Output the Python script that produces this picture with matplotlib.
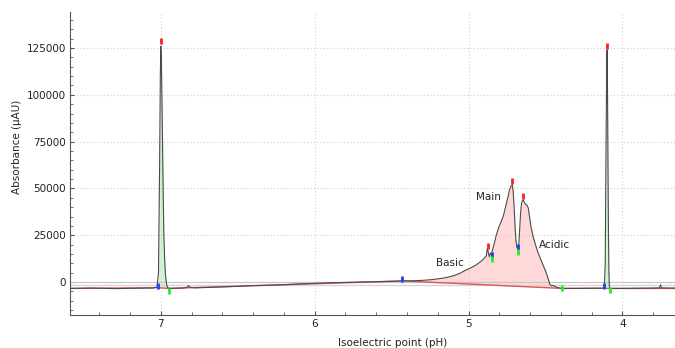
import numpy as np
import matplotlib
matplotlib.use("Agg")
import matplotlib.pyplot as plt
from matplotlib.ticker import MultipleLocator

plt.rcParams["font.family"] = ["DejaVu Sans"]

# ---------------------------
# DATA
# ---------------------------
trace_ph = [7.59, 7.45, 7.30, 7.15, 7.05, 7.025, 7.015, 7.008, 7.003, 7.000,
            6.996, 6.992, 6.988, 6.984, 6.980, 6.975, 6.970, 6.962, 6.955, 6.94,
            6.86, 6.83, 6.82, 6.81, 6.78, 6.70, 6.60, 6.50, 6.40, 6.30,
            6.20, 6.10, 6.00, 5.90, 5.80, 5.70, 5.60, 5.50, 5.43, 5.35,
            5.30, 5.25, 5.20, 5.15, 5.10, 5.06, 5.02, 4.98, 4.95, 4.92,
            4.90, 4.885, 4.878, 4.872, 4.865, 4.858, 4.852, 4.845, 4.835, 4.82,
            4.805, 4.79, 4.775, 4.76, 4.745, 4.735, 4.725, 4.716, 4.710, 4.704,
            4.698, 4.692, 4.686, 4.680, 4.674, 4.668, 4.662, 4.656, 4.650, 4.646,
            4.640, 4.630, 4.620, 4.612, 4.604, 4.596, 4.588, 4.580, 4.571, 4.560,
            4.548, 4.538, 4.528, 4.518, 4.508, 4.498, 4.488, 4.478, 4.470, 4.460,
            4.450, 4.440, 4.420, 4.400, 4.390, 4.30, 4.20, 4.13, 4.118, 4.112,
            4.107, 4.103, 4.100, 4.097, 4.094, 4.091, 4.088, 4.085, 4.080, 4.00,
            3.90, 3.80, 3.76, 3.752, 3.748, 3.70, 3.66]
trace_abs = [-3400, -3200, -3500, -3300, -3200, -2700, 5000, 60000, 110000, 126000,
             118000, 95000, 70000, 45000, 25000, 12000, 4000, -1500, -3000, -3400,
             -3200, -2900, -1900, -2800, -3100, -2900, -2600, -2300, -1900, -1700,
             -1400, -1000, -700, -400, -200, 0, 200, 400, 600, 700,
             900, 1200, 1700, 2300, 3300, 4500, 6300, 7800, 9200, 11000,
             12500, 14000, 18000, 16000, 13500, 15500, 14500, 17000, 20000, 25000,
             29000, 32000, 35000, 40000, 45000, 49000, 51000, 52000, 48000, 40000,
             30000, 22000, 18500, 17800, 19500, 28000, 37000, 42000, 43500, 44000,
             43000, 41500, 41000, 39500, 35000, 30000, 27000, 24000, 21500, 18500,
             15500, 13500, 11500, 9500, 7500, 5500, 3000, 500, -1500, -2000,
             -1800, -2300, -3000, -3300, -3400, -3400, -3300, -3300, -3100, 10000,
             70000, 110000, 124000, 100000, 60000, 25000, 5000, -2500, -3400, -3400,
             -3300, -3200, -3100, -1500, -3100, -3200, -3200]

# baseline (red) drawn by the integration
base_ph = [7.59, 7.02, 6.95, 5.43, 4.39, 4.117, 4.084, 3.66]
base_abs = [-3400, -3000, -3400, 600, -3400, -3300, -3400, -3400]

# peak integration windows
green_windows = [(7.02, 6.95), (4.117, 4.084)]
pink_window = (5.43, 4.39)

# peak markers
red_ph = [7.0, 4.877, 4.716, 4.646, 4.100]
red_abs = [128500, 19500, 54000, 46000, 126000]
blue_ph = [7.02, 5.43, 4.85, 4.68, 4.117]
blue_abs = [-2100, 1400, 14400, 18500, -2100]
green_ph = [6.948, 4.85, 4.68, 4.39, 4.084]
green_abs = [-4600, 12100, 16200, -3400, -4300]

labels = ["Basic", "Main", "Acidic"]
label_ph = [5.12, 4.87, 4.44]
label_abs = [10200, 45500, 20000]

# ---------------------------
# FIGURE
# ---------------------------
fig = plt.figure(figsize=(6.75, 3.48), dpi=100)
ax = fig.add_axes([0.1037, 0.0948, 0.896, 0.8707])

tp = np.array(trace_ph)
ta = np.array(trace_abs)
# np.interp needs increasing x
bp = np.array(base_ph)[::-1]
ba = np.array(base_abs)[::-1]

for lo, hi in green_windows:
    m = (tp <= lo) & (tp >= hi)
    ax.fill_between(tp[m], ta[m], np.interp(tp[m], bp, ba),
                    color="#d4f5d4", lw=0, zorder=1)
m = (tp <= pink_window[0]) & (tp >= pink_window[1])
ax.fill_between(tp[m], ta[m], np.interp(tp[m], bp, ba),
                color="#ffd9d9", lw=0, zorder=1)

# light grey reference lines
ax.axhline(0, color="#c8c8c8", lw=0.9, zorder=2)
ax.axhline(-1500, color="#d4d4d4", lw=0.9, zorder=2)

ax.plot(base_ph, base_abs, color="#e05555", lw=1.0, zorder=3)
ax.plot(trace_ph, trace_abs, color="#4a4a4a", lw=0.8, zorder=4)

ax.plot(red_ph, red_abs, ls="none", marker="|", ms=5, mew=2, color="#ff2020", zorder=5)
ax.plot(blue_ph, blue_abs, ls="none", marker="|", ms=5, mew=2, color="#1f3fff", zorder=5)
ax.plot(green_ph, green_abs, ls="none", marker="|", ms=5, mew=2, color="#22ee22", zorder=5)

for t, x, y in zip(labels, label_ph, label_abs):
    ax.text(x, y, t, ha="center", va="center", fontsize=7.5, color="#222222", zorder=6)

ax.set_xlim(7.59, 3.66)
ax.set_ylim(-17600, 144200)
ax.xaxis.set_major_locator(MultipleLocator(1))
ax.xaxis.set_minor_locator(MultipleLocator(0.2))
ax.yaxis.set_major_locator(MultipleLocator(25000))
ax.yaxis.set_minor_locator(MultipleLocator(5000))
ax.set_xticks([7, 6, 5, 4])
ax.set_xticklabels(["7", "6", "5", "4"])

ax.grid(True, which="major", color="#d0d0d0", ls=(0, (1, 2)), lw=0.8)
ax.tick_params(which="both", direction="in", colors="#555555", labelcolor="#222222",
               labelsize=7.5)
ax.tick_params(which="major", length=3, pad=3)
ax.tick_params(which="minor", length=2)
for s in ["top", "right"]:
    ax.spines[s].set_visible(False)
for s in ["left", "bottom"]:
    ax.spines[s].set_color("#555555")

ax.set_xlabel("Isoelectric point (pH)", fontsize=7.5, color="#222222")
ax.set_ylabel("Absorbance (\u00b5AU)", fontsize=7.5, color="#222222")
ax.xaxis.set_label_coords(0.534, -0.076)
ax.yaxis.set_label_coords(-0.079, 0.554)

fig.savefig("out.png", dpi=100)
